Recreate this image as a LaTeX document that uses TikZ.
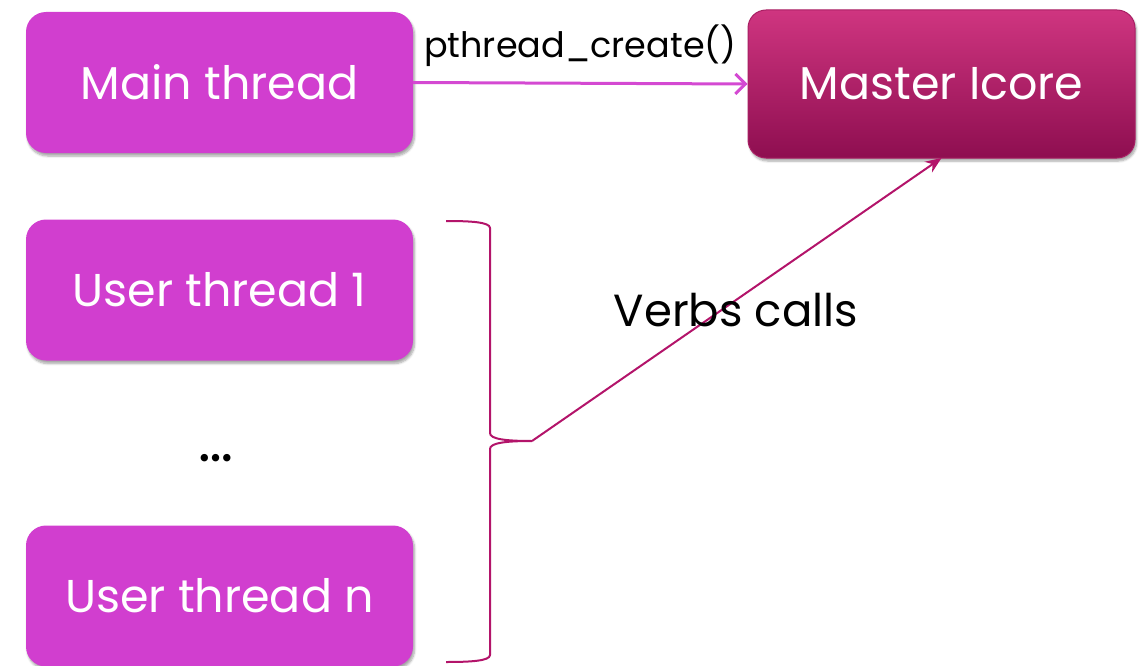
\documentclass[tikz,border=0pt]{standalone}
\usepackage{fontspec}
\setmainfont{Poppins}
\usetikzlibrary{arrows.meta,shadows.blur}
\definecolor{thr}{HTML}{D13ECF}
\definecolor{mtop}{HTML}{CF3580}
\definecolor{mbot}{HTML}{8E0E50}
\definecolor{brc}{HTML}{B3146A}
\definecolor{arr}{HTML}{D449D2}
\begin{document}
\begin{tikzpicture}[x=1pt,y=-1pt,
  thread/.style={draw=none,fill=thr,rounded corners=20pt,minimum width=387pt,minimum height=141pt,
    text=white,font=\fontsize{46}{52}\selectfont,blur shadow={shadow xshift=1.5pt,shadow yshift=-3pt,shadow blur steps=6,shadow opacity=35},inner sep=0pt},
  master/.style={draw=mbot!60!mtop,line width=1pt,top color=mtop,bottom color=mbot,rounded corners=18pt,minimum width=387pt,minimum height=148pt,
    text=white,font=\fontsize{46}{52}\selectfont,blur shadow={shadow xshift=1.5pt,shadow yshift=-3pt,shadow blur steps=6,shadow opacity=35},inner sep=0pt}]
\useasboundingbox (0,0) rectangle (1140,666);
\node[thread] (main) at (219.5,82.5) {Main thread};
\node[thread] (u1) at (219.5,290) {User thread 1};
\node[thread] (un) at (219.5,596) {User thread n};
\node[master] (mi) at (941.5,84) {Master Icore};
\node[font=\fontsize{60}{64}\selectfont] (dots) at (216,458) {\dots};
\draw[arr,line width=3pt,-{Straight Barb[length=10pt,width=20pt]}] (main.east) -- node[above=12pt,text=black,font=\fontsize{35}{40}\selectfont] (pc) {pthread\_create()} (mi.west);
\coordinate (tip) at (532,441);
\draw[brc,line width=2pt] (446,221) .. controls (470,221) and (490,222) .. (490,228) -- (490,433) .. controls (490,439) and (505,441) .. (tip)
  .. controls (505,441) and (490,443) .. (490,449) -- (490,655) .. controls (490,661) and (470,662) .. (446,662);
\draw[brc,line width=2pt,-{Stealth[length=16pt,width=13pt]}] (tip) -- (mi.south |- 0,158) coordinate (mb);
\node[font=\fontsize{45}{52}\selectfont] (vc) at (736,310) {Verbs calls};
\end{tikzpicture}
\end{document}
